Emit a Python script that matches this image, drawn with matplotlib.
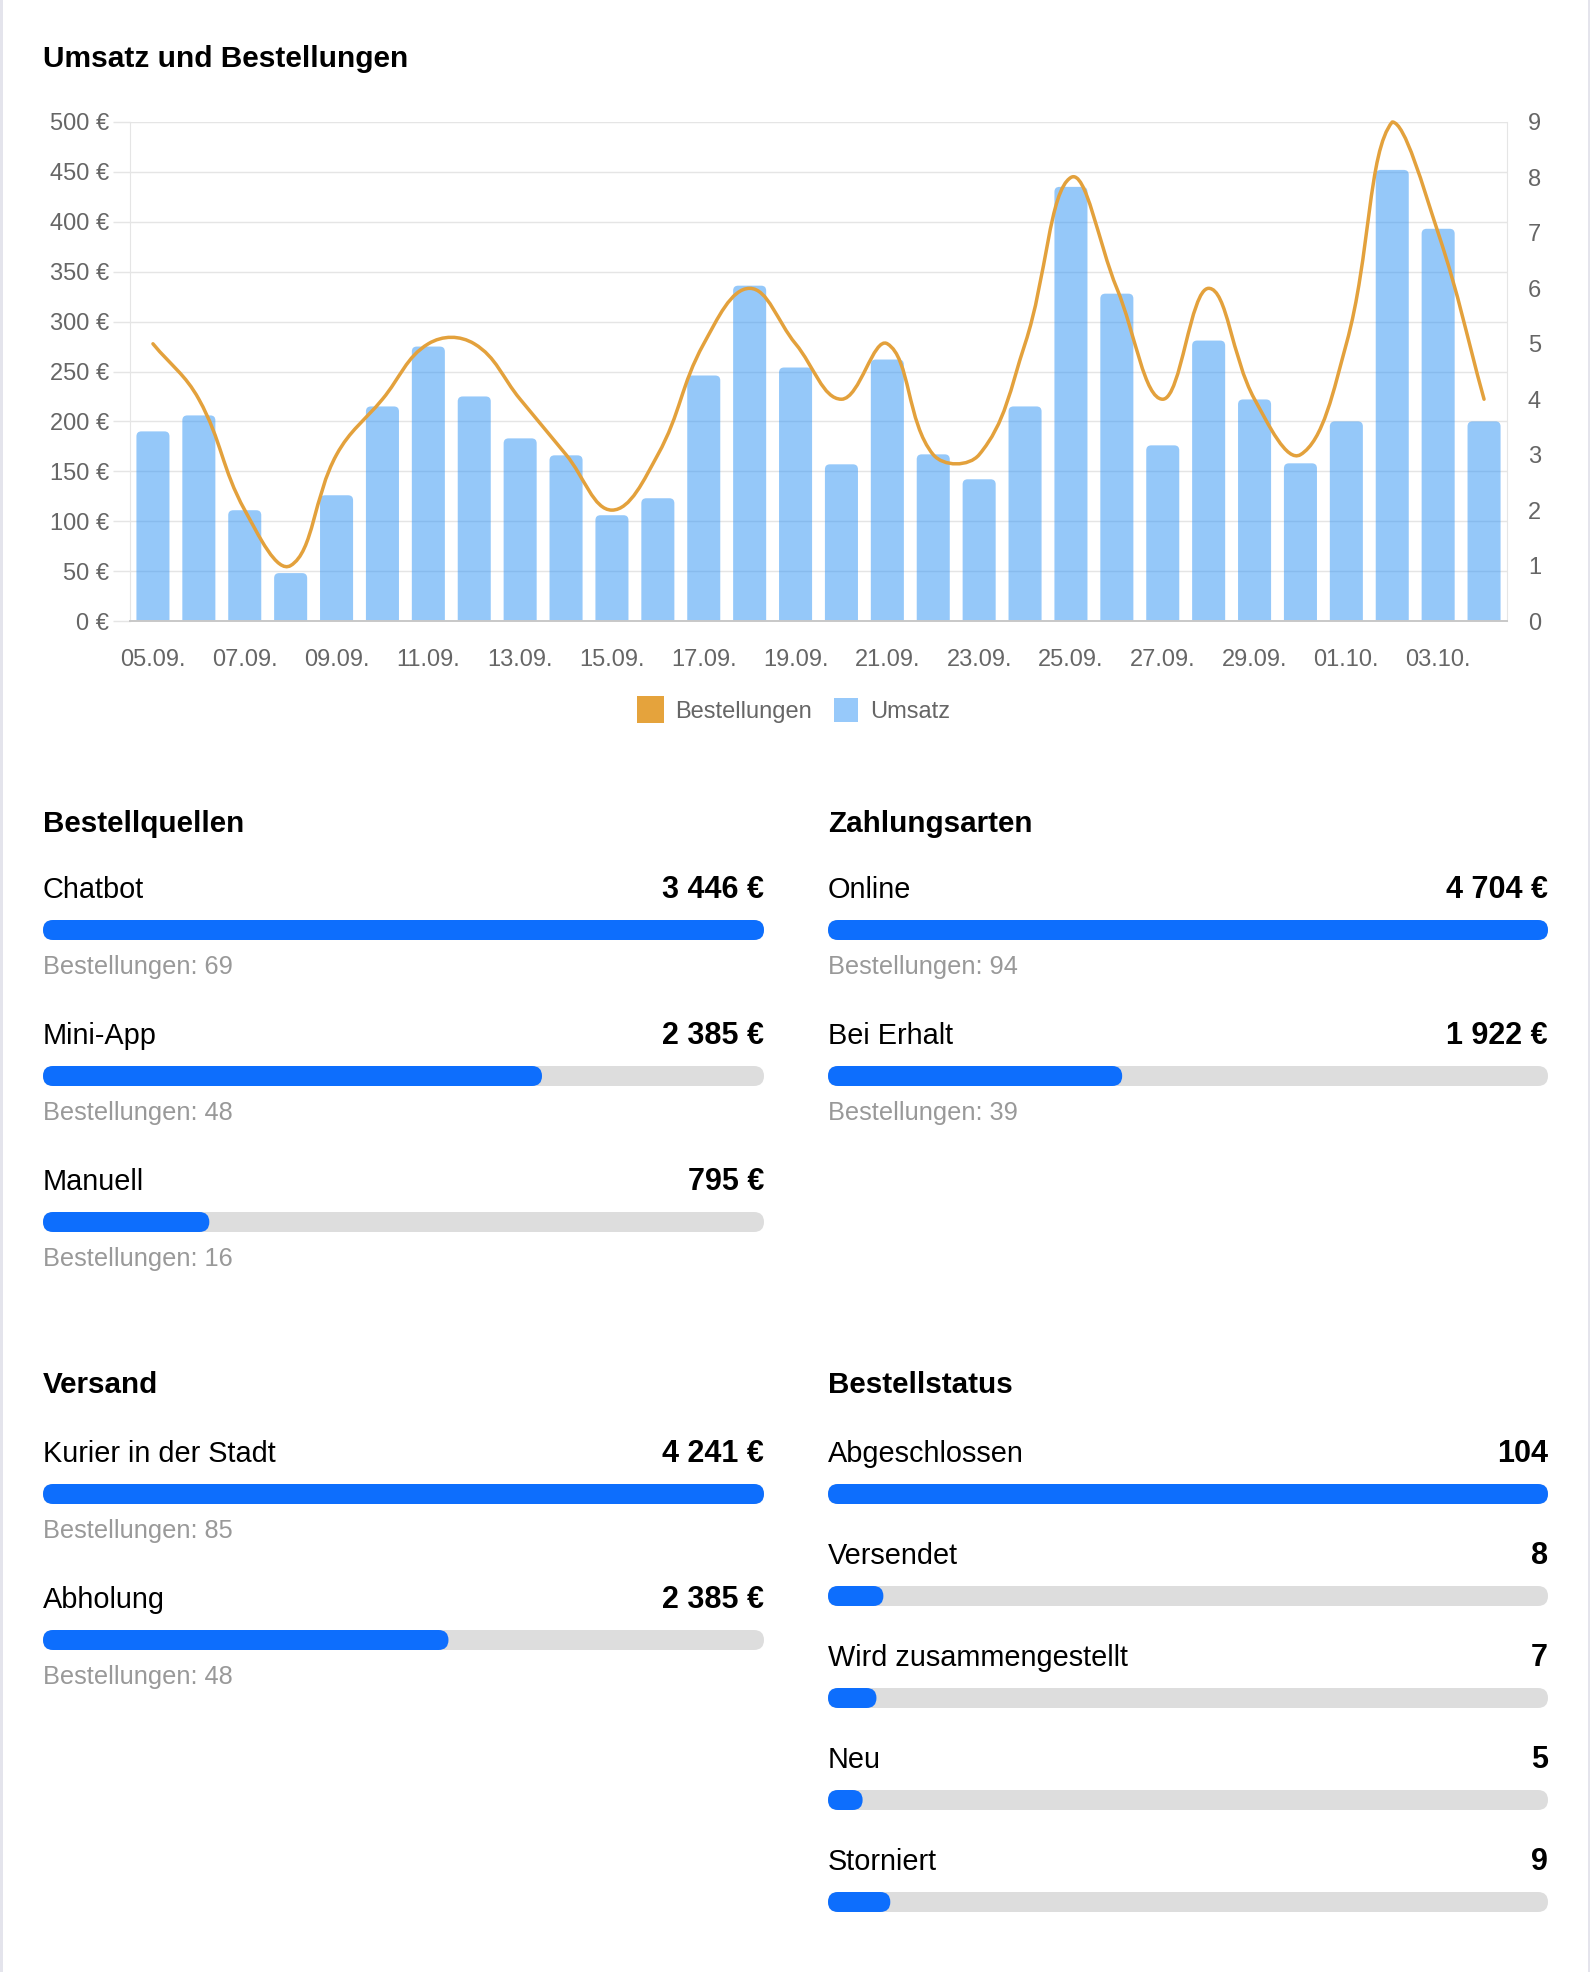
import numpy as np
import matplotlib
matplotlib.use('Agg')
import matplotlib.pyplot as plt
from matplotlib.patches import FancyBboxPatch, Rectangle, PathPatch
from matplotlib.path import Path

plt.rcParams['font.family'] = ['Liberation Sans', 'DejaVu Sans']

# Daten: Umsatz und Bestellungen pro Tag
tage = ['05.09.', '06.09.', '07.09.', '08.09.', '09.09.', '10.09.', '11.09.', '12.09.',
        '13.09.', '14.09.', '15.09.', '16.09.', '17.09.', '18.09.', '19.09.', '20.09.',
        '21.09.', '22.09.', '23.09.', '24.09.', '25.09.', '26.09.', '27.09.', '28.09.',
        '29.09.', '30.09.', '01.10.', '02.10.', '03.10.', '04.10.']
umsatz = [190, 206, 111, 48, 126, 215, 275, 225, 183, 166, 106, 123, 246, 336, 254,
          157, 262, 167, 142, 215, 435, 328, 176, 281, 222, 158, 200, 452, 393, 200]
bestellungen = [5, 4, 2, 1, 3, 4, 5, 5, 4, 3, 2, 3, 5, 6, 5,
                4, 5, 3, 3, 5, 8, 6, 4, 6, 4, 3, 5, 9, 7, 4]

quellen = ['Chatbot', 'Mini-App', 'Manuell']
quellen_umsatz = [3446, 2385, 795]
quellen_bestellungen = [69, 48, 16]

zahlungsarten = ['Online', 'Bei Erhalt']
zahlung_umsatz = [4704, 1922]
zahlung_bestellungen = [94, 39]

versand = ['Kurier in der Stadt', 'Abholung']
versand_umsatz = [4241, 2385]
versand_bestellungen = [85, 48]

status = ['Abgeschlossen', 'Versendet', 'Wird zusammengestellt', 'Neu', 'Storniert']
status_anzahl = [104, 8, 7, 5, 9]

W, H = 1590, 1972
BLAU = '#0D6EFD'
SPUR = '#DDDDDD'
ORANGE = '#E3A13C'
BALKEN = (45/255, 147/255, 245/255, 0.5)


def euro(v):
    return f'{v:,}'.replace(',', ' ') + ' €'


def spline_path(xs, ys, sx, sy, ymax, t=0.4):
    # Bezier-Kurve wie bei Chart.js (tension 0.4), in Pixelraum berechnet
    px = np.asarray(xs, float) * sx
    py = np.asarray(ys, float) * sy
    n = len(px)
    prev_cp, next_cp = [], []
    for i in range(n):
        a, b = max(i - 1, 0), min(i + 1, n - 1)
        d01 = np.hypot(px[i] - px[a], py[i] - py[a])
        d12 = np.hypot(px[b] - px[i], py[b] - py[i])
        s = d01 + d12
        fa = t * (d01 / s if s else 0)
        fb = t * (d12 / s if s else 0)
        dx, dy = px[b] - px[a], py[b] - py[a]
        prev_cp.append((px[i] - fa * dx, min(max(py[i] - fa * dy, 0), ymax * sy)))
        next_cp.append((px[i] + fb * dx, min(max(py[i] + fb * dy, 0), ymax * sy)))
    verts = [(px[0], py[0])]
    codes = [Path.MOVETO]
    for i in range(1, n):
        verts += [next_cp[i - 1], prev_cp[i], (px[i], py[i])]
        codes += [Path.CURVE4] * 3
    verts = [(vx / sx, vy / sy) for vx, vy in verts]
    return Path(verts, codes)


fig = plt.figure(figsize=(W / 100, H / 100), dpi=100)
fig.patch.set_facecolor('white')

# Overlay in Pixelkoordinaten
ov = fig.add_axes([0, 0, 1, 1])
ov.set_xlim(0, W)
ov.set_ylim(H, 0)
ov.axis('off')
ov.add_patch(Rectangle((0, 0), 2.5, H, color='#E4E4EC', lw=0))
ov.add_patch(Rectangle((W - 2.5, 0), 2.5, H, color='#E4E4EC', lw=0))

# Hauptdiagramm
L, R, T, B = 130, 1507, 122, 621
ax = fig.add_axes([L / W, 1 - B / H, (R - L) / W, (B - T) / H])
x = np.arange(len(tage))
px_x = (R - L) / len(tage)      # Pixel pro Kategorie
px_y = (B - T) / 500            # Pixel pro Euro
radius = 5                      # Eckenradius in Pixel
bw = 0.72
for xi, v in zip(x, umsatz):
    ax.add_patch(FancyBboxPatch((xi - bw / 2, -radius / px_y), bw, v + radius / px_y,
                                boxstyle=f'round,pad=0,rounding_size={radius / px_x}',
                                mutation_aspect=px_x / px_y,
                                fc=BALKEN, ec='none', zorder=2))
ax.set_xlim(-0.5, len(tage) - 0.5)
ax.set_ylim(0, 500)
ax.set_yticks(range(0, 501, 50))
ax.set_yticklabels([f'{v} €' for v in range(0, 501, 50)])
ax.set_xticks(x[::2])
ax.set_xticklabels(tage[::2])
ax.yaxis.grid(True, color='#E5E5E5', lw=1.0)
ax.set_axisbelow(True)
ax.spines['top'].set_visible(False)
ax.spines['left'].set_color('#E5E5E5')
ax.spines['right'].set_color('#E5E5E5')
ax.spines['bottom'].set_color('#C8C8C8')
ax.spines['bottom'].set_linewidth(1.4)
ax.spines['bottom'].set_zorder(3)
ax.tick_params(axis='y', length=12.2, width=1, color='#E5E5E5', pad=3,
               labelsize=17, labelcolor='#666666')
ax.tick_params(axis='x', length=0, pad=20, labelsize=17, labelcolor='#666666')

ax2 = ax.twinx()
ax2.set_ylim(0, 9)
ax2.set_yticks(range(10))
ax2.tick_params(axis='y', length=0, pad=15, labelsize=17, labelcolor='#666666')
for s in ax2.spines.values():
    s.set_visible(False)
sy = (B - T) / 9
pfad = spline_path(x, bestellungen, px_x, sy, 9)
ax2.add_patch(PathPatch(pfad, facecolor='none', edgecolor=ORANGE, lw=2.5,
                        capstyle='round', joinstyle='round', clip_on=False, zorder=4))

# Legende
ov.add_patch(Rectangle((637, 696), 27, 27, color='#E5A33C', lw=0))
ov.text(675, 718, 'Bestellungen', fontsize=17, color='#666666', va='baseline')
ov.add_patch(Rectangle((834, 698), 24, 24, color='#97C9FA', lw=0))
ov.text(870, 718, 'Umsatz', fontsize=17, color='#666666', va='baseline')

ov.text(43, 67, 'Umsatz und Bestellungen', fontsize=21.5, weight='bold', va='baseline')


def zeile(x0, x1, y, label, wert, anteil, sub=None):
    ov.text(x0, y - 32, label, fontsize=20.8, va='baseline', color='black')
    ov.text(x1, y - 32, wert, fontsize=22, va='baseline', ha='right',
            weight='bold', color='black')
    ov.add_patch(FancyBboxPatch((x0, y - 10), x1 - x0, 20,
                                boxstyle='round,pad=0,rounding_size=10',
                                fc=SPUR, ec='none'))
    ov.add_patch(FancyBboxPatch((x0, y - 10), (x1 - x0) * anteil, 20,
                                boxstyle='round,pad=0,rounding_size=10',
                                fc=BLAU, ec='none'))
    if sub:
        ov.text(x0, y + 44, sub, fontsize=18.3, va='baseline', color='#999999')


def block(x0, x1, titel, y_titel, y_erste, abstand, namen, werte, texte, subs):
    ov.text(x0, y_titel, titel, fontsize=21.3, weight='bold', va='baseline')
    m = max(werte)
    for i, n in enumerate(namen):
        zeile(x0, x1, y_erste + i * abstand, n, texte[i], werte[i] / m,
              subs[i] if subs else None)


LX0, LX1 = 43, 764
RX0, RX1 = 828, 1548

block(LX0, LX1, 'Bestellquellen', 832, 930, 146, quellen, quellen_umsatz,
      [euro(v) for v in quellen_umsatz],
      [f'Bestellungen: {v}' for v in quellen_bestellungen])
block(RX0, RX1, 'Zahlungsarten', 832, 930, 146, zahlungsarten, zahlung_umsatz,
      [euro(v) for v in zahlung_umsatz],
      [f'Bestellungen: {v}' for v in zahlung_bestellungen])
block(LX0, LX1, 'Versand', 1393, 1494, 146, versand, versand_umsatz,
      [euro(v) for v in versand_umsatz],
      [f'Bestellungen: {v}' for v in versand_bestellungen])
block(RX0, RX1, 'Bestellstatus', 1393, 1494, 102, status, status_anzahl,
      [str(v) for v in status_anzahl], None)

fig.savefig('out.png', dpi=100)
